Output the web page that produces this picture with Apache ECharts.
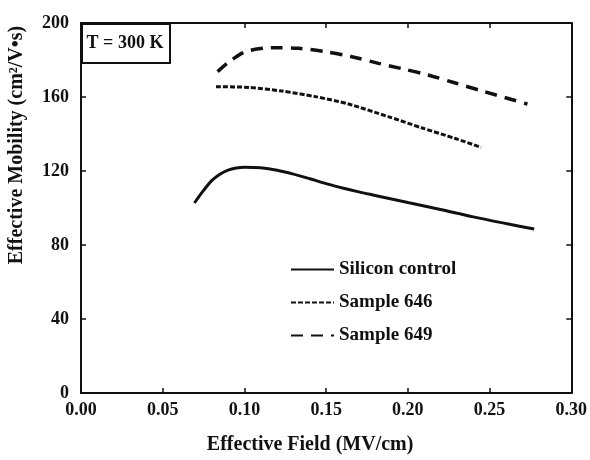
<!DOCTYPE html>
<html>
<head>
<meta charset="utf-8">
<script src="https://cdn.jsdelivr.net/npm/echarts@6/dist/echarts.min.js"></script>
<style>
  html, body { margin: 0; padding: 0; background: #fff; }
  #chart { width: 590px; height: 460px; }
</style>
</head>
<body>
<div id="chart"></div>
<script>
// Effective field (MV/cm) and effective mobility (cm²/V·s) per sample
const siliconField = [0.0694, 0.075, 0.08, 0.085, 0.09, 0.095, 0.10, 0.11, 0.12, 0.13, 0.14, 0.15, 0.16, 0.17, 0.18, 0.19, 0.20, 0.22, 0.24, 0.26, 0.2773];
const siliconMobility = [102.7, 109.5, 114.8, 118.3, 120.5, 121.6, 122.0, 121.7, 120.4, 118.3, 115.8, 113.2, 110.8, 108.7, 106.8, 104.9, 103.0, 99.2, 95.2, 91.6, 88.6];

const s646Field = [0.0826, 0.1028, 0.123, 0.1434, 0.1637, 0.188, 0.2083, 0.2286, 0.2448];
const s646Mobility = [165.6, 165.2, 163.2, 160.2, 156.2, 149.4, 143.4, 137.7, 132.8];

const s649Field = [0.0836, 0.0907, 0.1008, 0.117, 0.1333, 0.1495, 0.1657, 0.182, 0.196, 0.2124, 0.2286, 0.2448, 0.2732];
const s649Mobility = [173.7, 179.1, 184.5, 186.6, 186.3, 184.5, 181.8, 178.2, 175.4, 171.9, 167.7, 163.4, 156.2];

const seriesNames = ['Silicon control', 'Sample 646', 'Sample 649'];
const xTicks = [0, 0.05, 0.10, 0.15, 0.20, 0.25, 0.30];
const yTicks = [0, 40, 80, 120, 160, 200];

const pairs = (xs, ys) => xs.map((x, i) => [x, ys[i]]);

const FONT = '"Liberation Serif", "DejaVu Serif", serif';
const INK = '#111';

// shared styling for the four frame axes: black line, short inward ticks
const frameAxis = (extra) => Object.assign({
  axisLine: { show: true, onZero: false, lineStyle: { color: INK, width: 2 } },
  axisTick: { show: true, inside: true, length: 5, lineStyle: { color: INK, width: 1.5 } },
  splitLine: { show: false }
}, extra);

const chart = echarts.init(document.getElementById('chart'), null, { renderer: 'canvas' });

chart.setOption({
  backgroundColor: '#fff',
  animation: false,
  grid: { left: 81, right: 16, top: 23, bottom: 66 },
  xAxis: [
    frameAxis({
      type: 'value', min: xTicks[0], max: xTicks[xTicks.length - 1], interval: 0.05,
      position: 'bottom',
      axisLabel: {
        margin: 8, color: INK, fontFamily: FONT, fontWeight: 'bold', fontSize: 18,
        formatter: v => v.toFixed(2)
      },
      name: 'Effective Field (MV/cm)',
      nameLocation: 'middle', nameGap: 42,
      nameTextStyle: { color: INK, fontFamily: FONT, fontWeight: 'bold', fontSize: 20, padding: [0, 32, 0, 0] }
    }),
    frameAxis({
      type: 'value', min: xTicks[0], max: xTicks[xTicks.length - 1], interval: 0.05,
      position: 'top', axisLabel: { show: false }
    })
  ],
  yAxis: [
    frameAxis({
      type: 'value', min: yTicks[0], max: yTicks[yTicks.length - 1], interval: 40,
      position: 'left',
      axisLabel: { margin: 12, color: INK, fontFamily: FONT, fontWeight: 'bold', fontSize: 18 }
    }),
    frameAxis({
      type: 'value', min: yTicks[0], max: yTicks[yTicks.length - 1], interval: 40,
      position: 'right', axisLabel: { show: false }
    })
  ],
  legend: {
    orient: 'vertical',
    left: 285, top: 255,
    itemWidth: 43, itemHeight: 14, itemGap: 14,
    data: seriesNames,
    itemStyle: { opacity: 0 },
    textStyle: { color: INK, fontFamily: FONT, fontWeight: 'bold', fontSize: 19 }
  },
  series: [
    {
      name: seriesNames[0], type: 'line', smooth: 0.3, symbol: 'none',
      data: pairs(siliconField, siliconMobility),
      lineStyle: { color: INK, width: 3, type: 'solid' }, itemStyle: { color: INK }
    },
    {
      name: seriesNames[1], type: 'line', smooth: 0.25, symbol: 'none',
      data: pairs(s646Field, s646Mobility),
      lineStyle: { color: INK, width: 3, type: [5, 2] }, itemStyle: { color: INK }
    },
    {
      name: seriesNames[2], type: 'line', smooth: 0.3, symbol: 'none',
      data: pairs(s649Field, s649Mobility),
      lineStyle: { color: INK, width: 3.5, type: [12, 8] }, itemStyle: { color: INK }
    }
  ],
  graphic: [
    {
      type: 'rect', left: 81, top: 23, z: 10,
      shape: { width: 88, height: 39 },
      style: { fill: '#fff', stroke: INK, lineWidth: 2 }
    },
    {
      type: 'text', x: 125, y: 43, z: 11,
      style: {
        text: 'T = 300 K', fill: INK, font: 'bold 18px ' + FONT,
        align: 'center', verticalAlign: 'middle'
      }
    },
    {
      type: 'text', x: 17, y: 145, rotation: Math.PI / 2,
      style: {
        text: 'Effective Mobility (cm²/V•s)', fill: INK, font: 'bold 20px ' + FONT,
        align: 'center', verticalAlign: 'middle'
      }
    }
  ]
});
</script>
</body>
</html>
